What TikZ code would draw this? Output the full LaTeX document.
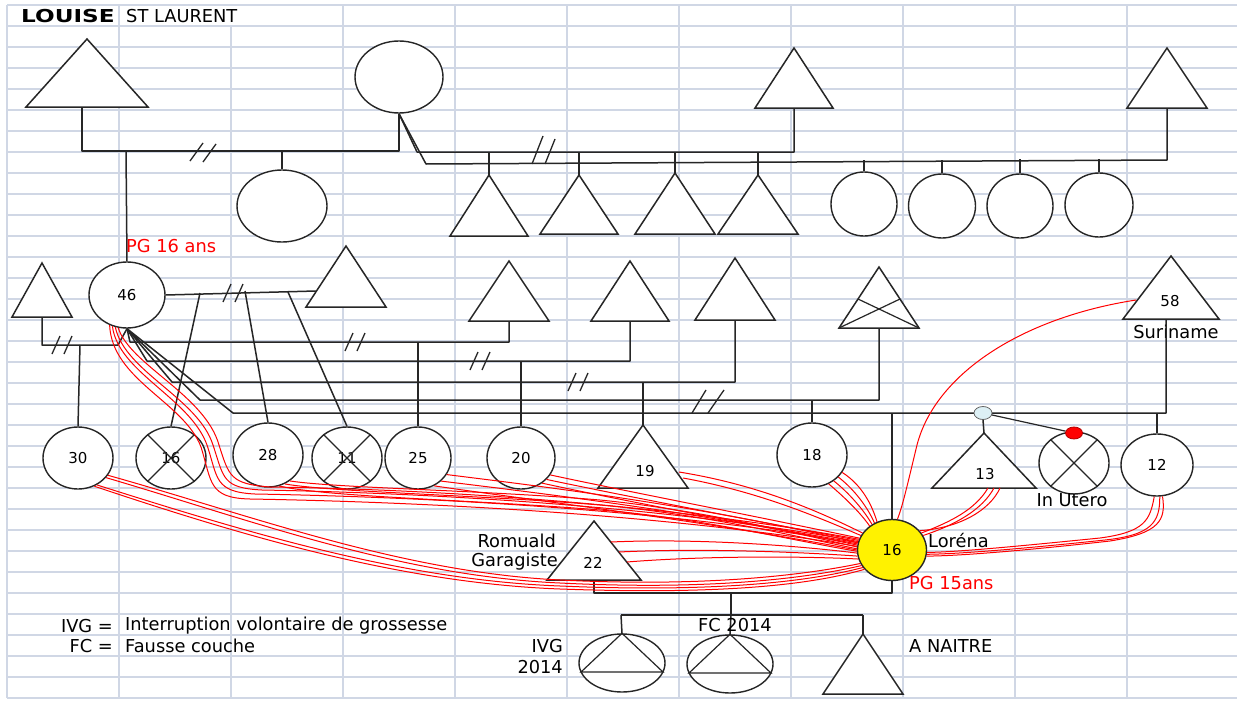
\documentclass[tikz,border=0pt]{standalone}
\usepackage{fontspec}
\setmainfont{DejaVu Sans}
\usepackage{graphicx}
\usetikzlibrary{shapes.geometric,calc}
\definecolor{gridc}{HTML}{D0D7E5}
\definecolor{dotblue}{HTML}{DDF0F5}
\tikzset{
 gridl/.style={draw=gridc, line width=1.3pt},
 ln/.style={draw=black!85, line width=1.5pt, line join=round},
 thinln/.style={draw=black!85, line width=1.2pt},
 rel/.style={draw=red, line width=1pt},
 pc/.style={ellipse, draw=black!85, line width=1.4pt, fill=white, inner sep=0pt, font=\fontsize{15}{17}\selectfont},
 num/.style={inner sep=0pt, font=\fontsize{15}{17}\selectfont},
 lbl/.style={inner sep=0pt, font=\fontsize{17.8}{20}\selectfont},
 redtxt/.style={lbl, text=red},
}
\newcommand\tri[5]{%
 \coordinate (#1-top) at (#2,#3);
 \coordinate (#1-bl) at ({#2-#4},#5);
 \coordinate (#1-br) at ({#2+#4},#5);
 \coordinate (#1-bot) at (#2,#5);
 \filldraw[ln, fill=white, line join=miter] (#1-top) -- (#1-bl) -- (#1-br) -- cycle;}
\newcommand\dslash[2]{\draw[ln, line width=1.3pt] ({#1-10},{#2+9}) -- ({#1-2},{#2-9}) ({#1+2},{#2+9}) -- ({#1+10},{#2-9});}
\begin{document}
\begin{tikzpicture}[x=1pt,y=-1pt]
\useasboundingbox (0,0) rectangle (1237,704);
\fill[white] (0,0) rectangle (1237,704);
% grid
\foreach \k in {0,...,33} \draw[gridl] (7,{5+21*\k}) -- (1237,{5+21*\k});
\foreach \x in {7,119,343,455,567,679,791,903,1015,1127} \draw[gridl] (\x,5) -- (\x,698);
\draw[gridl] (231,26) -- (231,698);

% ---------- generation 1 ----------
\tri{ta}{87}{39}{61}{107}
\node[pc, minimum width=88pt, minimum height=72pt] (cb) at (399,77) {};
\tri{tb}{794}{48}{39}{108}
\tri{tc}{1167}{48}{40}{108}
\node[pc, minimum width=90pt, minimum height=72pt] (cc) at (282,206) {};
\tri{s1}{489}{175}{39}{236}
\tri{s2}{579}{175}{39}{234}
\tri{s3}{675}{173}{40}{234}
\tri{s4}{758}{175}{40}{234}
\node[pc, minimum width=66pt, minimum height=64pt] (d1) at (864,204) {};
\node[pc, minimum width=67pt, minimum height=64pt] (d2) at (942,206) {};
\node[pc, minimum width=66pt, minimum height=64pt] (d3) at (1020,206) {};
\node[pc, minimum width=68pt, minimum height=64pt] (d4) at (1099,205) {};

% ---------- generation 2 ----------
\tri{tl}{42}{263}{30}{317}
\node[pc, minimum width=76pt, minimum height=66pt] (n46) at (127,295) {46};
\tri{tp}{346}{246}{40}{307}
\tri{t5}{509}{261}{40}{321}
\tri{t6}{630}{261}{39}{321}
\tri{t7}{735}{258}{40}{320}
\tri{tx}{879}{267}{40}{328}
\draw[thinln] (tx-bl) -- (900,299) (tx-br) -- (858,299);
\tri{t58}{1171}{256}{48}{319}
\node[num] (n58) at (1170,301) {58};
\node[lbl] (sur) at (1176,332) {Suriname};

\node[pc, minimum width=70pt, minimum height=62pt] (n30) at (78,458) {30};
\node[pc, minimum width=70pt, minimum height=62pt] (x16) at (171,458) {16};
\draw[thinln] (x16.45) -- (x16.225) (x16.135) -- (x16.315);
\node[pc, minimum width=70pt, minimum height=64pt] (n28) at (268,455) {28};
\node[pc, minimum width=70pt, minimum height=62pt] (x11) at (347,458) {11};
\draw[thinln] (x11.45) -- (x11.225) (x11.135) -- (x11.315);
\node[pc, minimum width=66pt, minimum height=62pt] (n25) at (418,458) {25};
\node[pc, minimum width=68pt, minimum height=62pt] (n20) at (521,458) {20};
\tri{t19}{643}{425}{45}{488}
\node[num] (n19) at (645,471) {19};
\node[pc, minimum width=70pt, minimum height=64pt] (n18) at (812,455) {18};
\tri{t13}{984}{433}{52}{488}
\node[num] (n13) at (985,474) {13};
\node[pc, minimum width=70pt, minimum height=62pt] (xu) at (1074,463) {};
\draw[thinln] (xu.45) -- (xu.225) (xu.135) -- (xu.315);
\node[lbl] (ut) at (1072,500) {In Utero};
\node[pc, minimum width=72pt, minimum height=62pt] (n12) at (1157,465) {12};

% ---------- generation 3 ----------
\node[pc, fill=yellow, minimum width=69pt, minimum height=61pt] (lor) at (892,550) {16};
\tri{t22}{594}{521}{47}{580}
\node[num] (n22) at (593,563) {22};
\node[pc, minimum width=86pt, minimum height=58pt] (ivg) at (622,663) {};
\draw[thinln, line join=miter] (ivg.north) -- (581,672) -- (663,672) -- cycle;
\node[pc, minimum width=86pt, minimum height=58pt] (fc) at (730,664) {};
\draw[thinln, line join=miter] (fc.north) -- (689,673) -- (771,673) -- cycle;
\tri{tn}{863}{634}{40}{694}

% ---------- connectors gen 1 ----------
\coordinate (ta-stem) at (82,107);
\coordinate (ja) at (82,151);
\coordinate (jb) at (399,151);
\coordinate (jc) at (282,151);
\coordinate (jm) at (126,151);
\draw[ln] (ta-stem) -- (ja) -- (jb) -- (cb.south);
\draw[ln] (jc) -- (cc.north);
\draw[ln] (jm) -- (n46.north);
\draw[ln, line width=1.3pt] (190,161) -- (203,143) (203,162) -- (216,144);
\coordinate (jd) at (417,152);
\coordinate (je) at (794,152);
\coordinate (jf) at (426,164);
\coordinate (jg) at (1167,160);
\draw[ln] (cb.south) -- (jd) -- (je) -- (tb-bot);
\draw[ln] (cb.south) -- (jf) -- (jg) -- (tc-bot);
\draw[ln, line width=1.3pt] (532,164) -- (543,136) (545,164) -- (555,139);
\foreach \s in {s1,s2,s3,s4} \draw[ln] (\s-top |- jd) -- (\s-top);
\draw[ln] (d1.north) -- ++(0,-11);
\draw[ln] (d2.north) -- ++(0,-13);
\draw[ln] (d3.north) -- ++(0,-14);
\draw[ln] (d4.north) -- ++(0,-13);

% ---------- connectors gen 2 ----------
\coordinate (k1) at (42,345);
\coordinate (k2) at (118,345);
\coordinate (k3) at (80,345);
\draw[ln] (tl-bot) -- (k1) -- (k2) -- (n46.south);
\dslash{62}{345}
\draw[ln] (k3) -- (n30.north);
\coordinate (f1) at (130,342); \coordinate (f1e) at (509,342);
\coordinate (f2) at (147,361); \coordinate (f2e) at (630,361);
\coordinate (f3) at (172,382); \coordinate (f3e) at (735,382);
\coordinate (f4) at (200,400); \coordinate (f4e) at (879,400);
\coordinate (f5) at (233,413); \coordinate (f5e) at (1166,413);
\coordinate (t58-stem) at (1166,319);
\draw[ln] (n46.south) -- (f1) -- (f1e) -- (t5-bot);
\draw[ln] (n46.south) -- (f2) -- (f2e) -- (t6-bot);
\draw[ln] (n46.south) -- (f3) -- (f3e) -- (t7-bot);
\draw[ln] (n46.south) -- (f4) -- (f4e) -- (tx-bot);
\draw[ln] (n46.south) -- (f5) -- (f5e) -- (t58-stem);
\dslash{355}{342}
\dslash{480}{361}
\dslash{578}{382}
\draw[ln, line width=1.3pt] (692,413) -- (706,390) (708,413) -- (724,390);
\draw[ln] (n25.north |- f1) -- (n25.north);
\draw[ln] (n20.north |- f2) -- (n20.north);
\draw[ln] (t19-top |- f3) -- (t19-top);
\draw[ln] (n18.north |- f4) -- (n18.north);
\draw[ln] (lor.north |- f5) -- (lor.north);
\draw[ln] (n12.north |- f5) -- (n12.north);
% partner of 46
\coordinate (pj) at (316,291);
\draw[ln] (n46.east) -- (pj);
\dslash{233}{293}
\coordinate (c1a) at (200,293);
\coordinate (c2a) at (245,291);
\coordinate (c3a) at (288,292);
\draw[ln] (c1a) -- (x16.north);
\draw[ln] (c2a) -- (n28.north);
\draw[ln] (c3a) -- (x11.north);
% twins / in utero
\node[ellipse, draw=black!60, fill=dotblue, line width=0.8pt, minimum width=18pt, minimum height=13pt, inner sep=0pt] (bd) at (983,413) {};
\node[ellipse, draw=red!70!black, fill=red, line width=0.8pt, minimum width=17pt, minimum height=12pt, inner sep=0pt] (rd) at (1074,433) {};
\draw[ln, line width=1.2pt] (bd) -- (rd);
\draw[ln] (bd.south) -- (t13-top);

% ---------- connectors gen 3 ----------
\coordinate (g1) at (892,593);
\coordinate (g2) at (594,593);
\coordinate (g3) at (731,593);
\coordinate (g4) at (731,615);
\coordinate (g5) at (621,615);
\coordinate (g6) at (863,615);
\draw[ln] (lor.south) -- (g1) -- (g2) -- (t22-bot);
\draw[ln] (g3) -- (g4);
\draw[ln] (g5) -- (g6);
\draw[ln] (g5) -- (ivg.north);
\draw[ln] (g4) -- (fc.north);
\draw[ln] (g6) -- (tn-top);

% ---------- red relations to Lorena ----------
% 46
\draw[rel] (n46.245) .. controls (118,372) and (190,398) .. (207,445) .. controls (218,478) and (214,492) .. (255,494) .. controls (480,498) and (700,515) .. (lor.170);
\draw[rel] (n46.250) .. controls (125,372) and (198,398) .. (213,445) .. controls (224,478) and (222,488) .. (262,490) .. controls (480,494) and (700,512) .. (lor.166);
\draw[rel] (n46.255) .. controls (130,365) and (205,395) .. (219,445) .. controls (229,476) and (230,484) .. (270,487) .. controls (480,490) and (700,510) .. (lor.162);
\draw[rel] (n46.240) .. controls (112,380) and (184,402) .. (201,447) .. controls (212,482) and (208,498) .. (250,499) .. controls (480,503) and (700,520) .. (lor.174);
% 30
\draw[rel] (n30.330) .. controls (250,515) and (400,572) .. (560,580) .. controls (700,587) and (800,576) .. (lor.203);
\draw[rel] (n30.325) .. controls (250,520) and (400,576) .. (560,583) .. controls (700,590) and (800,580) .. (lor.207);
\draw[rel] (n30.305) .. controls (240,530) and (400,580) .. (560,586) .. controls (700,592) and (800,584) .. (lor.211);
\draw[rel] (n30.300) .. controls (240,535) and (400,583) .. (560,589) .. controls (700,594) and (800,588) .. (lor.215);
% 28
\draw[rel] (n28.300) .. controls (330,492) and (480,495) .. (600,505) .. controls (700,514) and (790,535) .. (lor.178);
\draw[rel] (n28.310) .. controls (335,488) and (480,490) .. (600,500) .. controls (700,510) and (790,532) .. (lor.175);
\draw[rel] (n28.290) .. controls (325,497) and (480,500) .. (600,510) .. controls (700,518) and (790,540) .. (lor.182);
% 25
\draw[rel] (n25.330) .. controls (530,485) and (700,505) .. (lor.168);
\draw[rel] (n25.315) .. controls (530,492) and (700,512) .. (lor.172);
\draw[rel] (n25.300) .. controls (530,500) and (700,520) .. (lor.180);
% 20
\draw[rel] (n20.330) .. controls (620,490) and (750,515) .. (lor.160);
\draw[rel] (n20.320) .. controls (620,495) and (750,520) .. (lor.164);
\draw[rel] (n20.310) .. controls (620,500) and (750,525) .. (lor.168);
% 19
\coordinate (t19r) at (679,472);
\coordinate (t19r2) at (683,478);
\draw[rel] (t19r) .. controls (760,485) and (820,512) .. (lor.150);
\draw[rel] (t19r2) .. controls (760,492) and (820,518) .. (lor.155);
% 22
\coordinate (r22a) at (611,542);
\coordinate (r22b) at (619,552);
\coordinate (r22c) at (627,562);
\draw[rel] (r22a) .. controls (700,538) and (800,546) .. (lor.185);
\draw[rel] (r22b) .. controls (700,548) and (800,552) .. (lor.190);
\draw[rel] (r22c) .. controls (700,556) and (800,556) .. (lor.195);
% 18
\draw[rel] (n18.330) .. controls (862,485) and (872,505) .. (lor.118);
\draw[rel] (n18.320) .. controls (855,490) and (868,508) .. (lor.123);
\draw[rel] (n18.310) .. controls (848,492) and (864,510) .. (lor.128);
\draw[rel] (n18.300) .. controls (842,495) and (860,512) .. (lor.133);
% 13
\coordinate (b13a) at (988,488);
\coordinate (b13b) at (994,488);
\coordinate (b13c) at (1000,488);
\draw[rel] (b13a) .. controls (975,510) and (950,522) .. (lor.30);
\draw[rel] (b13b) .. controls (982,510) and (955,525) .. (lor.25);
\draw[rel] (b13c) .. controls (990,510) and (960,528) .. (lor.35);
% 12
\draw[rel] (n12.265) .. controls (1150,520) and (1145,532) .. (1100,538) .. controls (1030,545) and (960,552) .. (lor.356);
\draw[rel] (n12.280) .. controls (1166,520) and (1160,533) .. (1110,541) .. controls (1030,550) and (960,556) .. (lor.350);
\draw[rel] (n12.275) .. controls (1160,522) and (1152,535) .. (1105,540) .. controls (1030,548) and (960,554) .. (lor.353);
% 58
\coordinate (s58) at (1136,300);
\draw[rel] (s58) .. controls (1020,318) and (935,375) .. (917,445) .. controls (908,482) and (903,505) .. (lor.80);

% ---------- texts ----------
\node[lbl, anchor=west] (hl) at (21,16) {\bfseries\scalebox{1.3}[1]{LOUISE}};
\node[lbl, anchor=west] (hs) at (126,16) {ST LAURENT};
\node[redtxt, anchor=west] (pg16) at (126,246) {PG 16 ans};
\node[lbl, anchor=east] (rom) at (556,541) {Romuald};
\node[lbl, anchor=east] (gar) at (558,562) {Garagiste};
\node[lbl, anchor=west] (lorn) at (928,541) {Loréna};
\node[redtxt, anchor=west] (pg15) at (909,583) {PG 15ans};
\node[lbl, anchor=west] (an) at (909,646) {A NAITRE};
\node[lbl, anchor=east] (ivgl) at (563,646) {IVG};
\node[lbl, anchor=east] (ivgy) at (563,667) {2014};
\node[lbl] (fcl) at (735,625) {FC 2014};
\node[lbl, anchor=east] (lg1) at (113,626) {IVG =};
\node[lbl, anchor=west] (lg1t) at (125,626) {Interruption volontaire de grossesse};
\node[lbl, anchor=east] (lg2) at (113,646) {FC =};
\node[lbl, anchor=west] (lg2t) at (125,646) {Fausse couche};
\end{tikzpicture}
\end{document}
